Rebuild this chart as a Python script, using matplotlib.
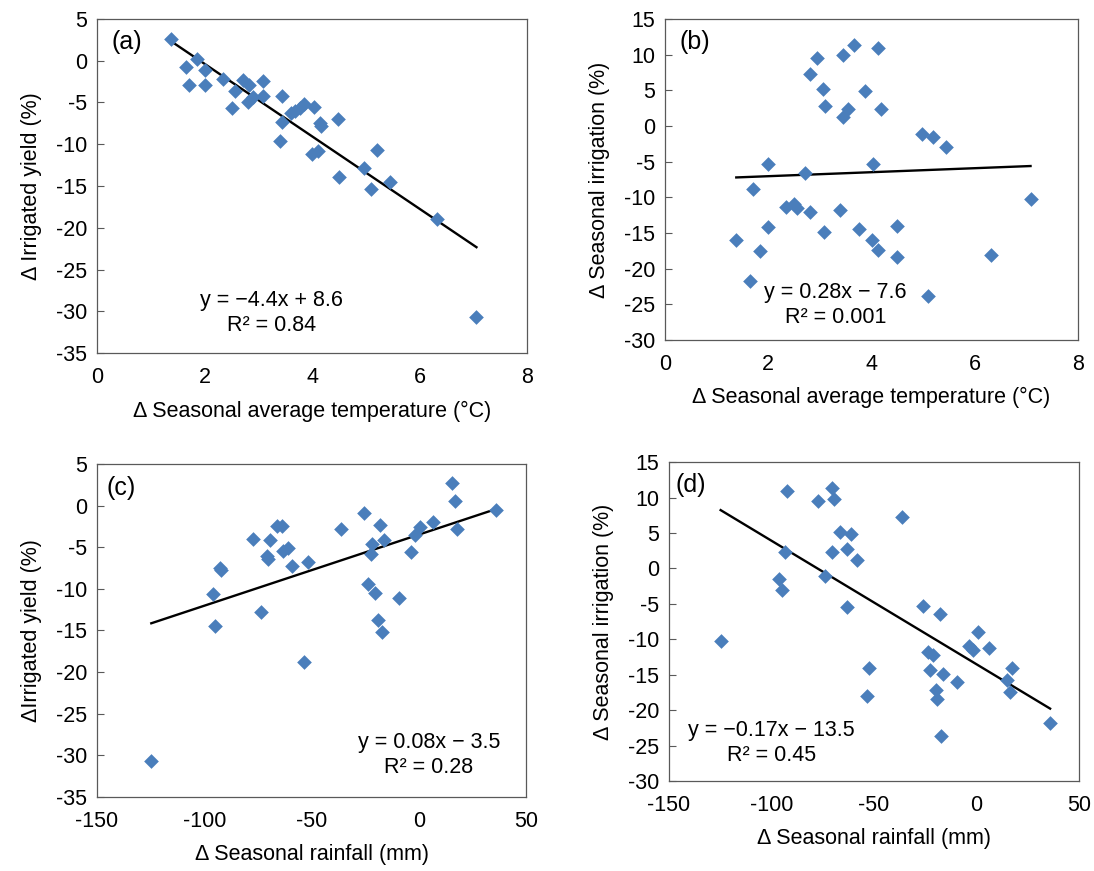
import numpy as np
import matplotlib
matplotlib.use('Agg')
from matplotlib import pyplot as plt

plt.rcParams['font.family'] = ['Liberation Sans', 'DejaVu Sans']
plt.rcParams['axes.unicode_minus'] = False

# (a) temperature change vs irrigated yield change
temp_a = [1.38, 1.66, 1.86, 2.0, 1.71, 2.0, 2.34, 2.56, 2.52, 2.71, 2.83, 2.80,
          2.91, 3.08, 3.09, 3.44, 3.44, 3.40, 3.6, 3.69, 3.78, 3.86, 4.04, 4.14,
          4.17, 4.48, 4.0, 4.12, 4.51, 4.97, 5.21, 5.09, 5.45, 6.33, 7.06]
yield_a = [2.6, -0.7, 0.2, -1.1, -2.9, -2.9, -2.2, -3.6, -5.7, -2.3, -2.9, -4.9,
           -4.3, -2.4, -4.2, -4.2, -7.3, -9.6, -6.3, -6.0, -5.7, -5.2, -5.5, -7.5,
           -7.8, -7.0, -11.2, -10.8, -13.9, -12.8, -10.7, -15.3, -14.5, -18.9, -30.7]

# (b) temperature change vs seasonal irrigation change
temp_b = [1.38, 1.65, 1.71, 1.84, 1.99, 1.99, 2.34, 2.50, 2.55, 2.71, 2.81, 2.81,
          2.95, 3.06, 3.09, 3.07, 3.38, 3.44, 3.44, 3.55, 3.66, 3.75, 3.88, 4.01,
          4.03, 4.12, 4.12, 4.18, 4.49, 4.50, 4.98, 5.20, 5.09, 5.45, 6.32, 7.08]
irr_b = [-16.0, -21.8, -8.9, -17.5, -5.3, -14.1, -11.3, -10.9, -11.5, -6.6, -12.1, 7.3,
         9.5, 5.2, 2.8, -14.8, -11.8, 9.9, 1.2, 2.4, 11.3, -14.4, 4.9, -16.0,
         -5.3, 10.9, -17.4, 2.4, -14.0, -18.3, -1.1, -1.6, -23.8, -3.0, -18.1, -10.2]

# (c) rainfall change vs irrigated yield change
rain_c = [-124.7, -95.9, -94.8, -92.5, -92.2, -77.3, -73.5, -70.7, -70.3, -69.2, -66.1, -63.8,
          -63.3, -61.1, -58.9, -53.7, -51.6, -36.2, -25.7, -23.8, -21.8, -22.1, -20.2, -19.2,
          -17.1, -17.9, -16.4, -9.1, -3.5, -1.6, 0.4, 6.6, 15.5, 17.1, 17.8, 36.2]
yield_c = [-30.7, -10.6, -14.5, -7.5, -7.7, -4.0, -12.8, -6.1, -6.4, -4.1, -2.4, -2.4,
           -5.4, -5.1, -7.3, -18.8, -6.8, -2.8, -0.9, -9.4, -4.6, -5.8, -10.5, -13.8,
           -15.2, -2.3, -4.1, -11.1, -5.6, -3.5, -2.6, -2.0, 2.7, 0.5, -2.8, -0.5]

# (d) rainfall change vs seasonal irrigation change
rain_d = [-124.8, -92.6, -93.4, -96.2, -94.7, -77.5, -73.9, -70.3, -69.3, -70.3, -66.6, -63.3,
          -61.2, -58.5, -63.3, -52.3, -53.6, -36.5, -25.9, -23.5, -21.4, -22.7, -17.8, -16.5,
          -19.9, -19.4, -17.3, -9.3, -3.5, -1.9, 0.6, 6.1, 17.2, 15.0, 16.3, 35.9]
irr_d = [-10.2, 10.9, 2.3, -1.5, -3.0, 9.5, -1.1, 11.3, 9.8, 2.3, 5.1, 2.8,
         4.8, 1.2, -5.4, -14.1, -18.0, 7.3, -5.3, -11.8, -12.2, -14.4, -6.5, -14.9,
         -17.2, -18.4, -23.7, -16.0, -11.0, -11.5, -9.0, -11.3, -14.1, -15.8, -17.5, -21.8]

panels = [
    dict(x=temp_a, y=yield_a, tag='(a)', xlab='\u0394 Seasonal average temperature (\u00b0C)',
         ylab='\u0394 Irrigated yield (%)', xlim=(0, 8), xt=np.arange(0, 9, 2),
         ylim=(-35, 5), yt=np.arange(-35, 6, 5),
         eq='y = \u22124.4x + 8.6\nR\u00b2 = 0.84', eqpos=(0.405, 0.12),
         pos=[0.0887, 0.5947, 0.393, 0.3835], tagpos=(0.033, 0.93)),
    dict(x=temp_b, y=irr_b, tag='(b)', xlab='\u0394 Seasonal average temperature (\u00b0C)',
         ylab='\u0394 Seasonal irrigation (%)', xlim=(0, 8), xt=np.arange(0, 9, 2),
         ylim=(-30, 15), yt=np.arange(-30, 16, 5),
         eq='y = 0.28x \u2212 7.6\nR\u00b2 = 0.001', eqpos=(0.412, 0.11),
         pos=[0.6079, 0.6097, 0.3775, 0.3685], tagpos=(0.034, 0.928)),
    dict(x=rain_c, y=yield_c, tag='(c)', xlab='\u0394 Seasonal rainfall (mm)',
         ylab='\u0394Irrigated yield (%)', xlim=(-150, 50), xt=np.arange(-150, 51, 50),
         ylim=(-35, 5), yt=np.arange(-35, 6, 5),
         eq='y = 0.08x \u2212 3.5\nR\u00b2 = 0.28', eqpos=(0.774, 0.125),
         pos=[0.0887, 0.085, 0.3921, 0.3823], tagpos=(0.021, 0.928)),
    dict(x=rain_d, y=irr_d, tag='(d)', xlab='\u0394 Seasonal rainfall (mm)',
         ylab='\u0394 Seasonal irrigation (%)', xlim=(-150, 50), xt=np.arange(-150, 51, 50),
         ylim=(-30, 15), yt=np.arange(-30, 16, 5),
         eq='y = \u22120.17x \u2212 13.5\nR\u00b2 = 0.45', eqpos=(0.25, 0.118),
         pos=[0.6115, 0.1033, 0.3748, 0.3662], tagpos=(0.015, 0.928)),
]

fig = plt.figure(figsize=(10.94, 8.71), dpi=100)

for p in panels:
    ax = fig.add_axes(p['pos'])
    x = np.array(p['x'])
    y = np.array(p['y'])
    ax.scatter(x, y, marker='D', s=56, color='#4a7ebb', linewidths=0, zorder=3)
    k, b = np.polyfit(x, y, 1)
    xx = np.array([x.min(), x.max()])
    ax.plot(xx, k * xx + b, color='black', lw=1.7, zorder=2)
    ax.set_xlim(*p['xlim'])
    ax.set_ylim(*p['ylim'])
    ax.set_xticks(p['xt'])
    ax.set_yticks(p['yt'])
    ax.tick_params(axis='x', length=0, pad=10, labelsize=15.5)
    ax.tick_params(axis='y', direction='in', length=5, width=0.8, color='#595959',
                   pad=7, labelsize=15.5)
    for sp in ax.spines.values():
        sp.set_color('#595959')
        sp.set_linewidth(0.9)
    ax.set_xlabel(p['xlab'], fontsize=15.5, labelpad=9)
    ax.set_ylabel(p['ylab'], fontsize=15.5, labelpad=10)
    ax.text(p['tagpos'][0], p['tagpos'][1], p['tag'], transform=ax.transAxes,
            fontsize=18, ha='left', va='center')
    ax.text(p['eqpos'][0], p['eqpos'][1], p['eq'], transform=ax.transAxes,
            fontsize=15.5, ha='center', va='center', multialignment='center',
            linespacing=1.25)

fig.savefig('out.png', dpi=100)
